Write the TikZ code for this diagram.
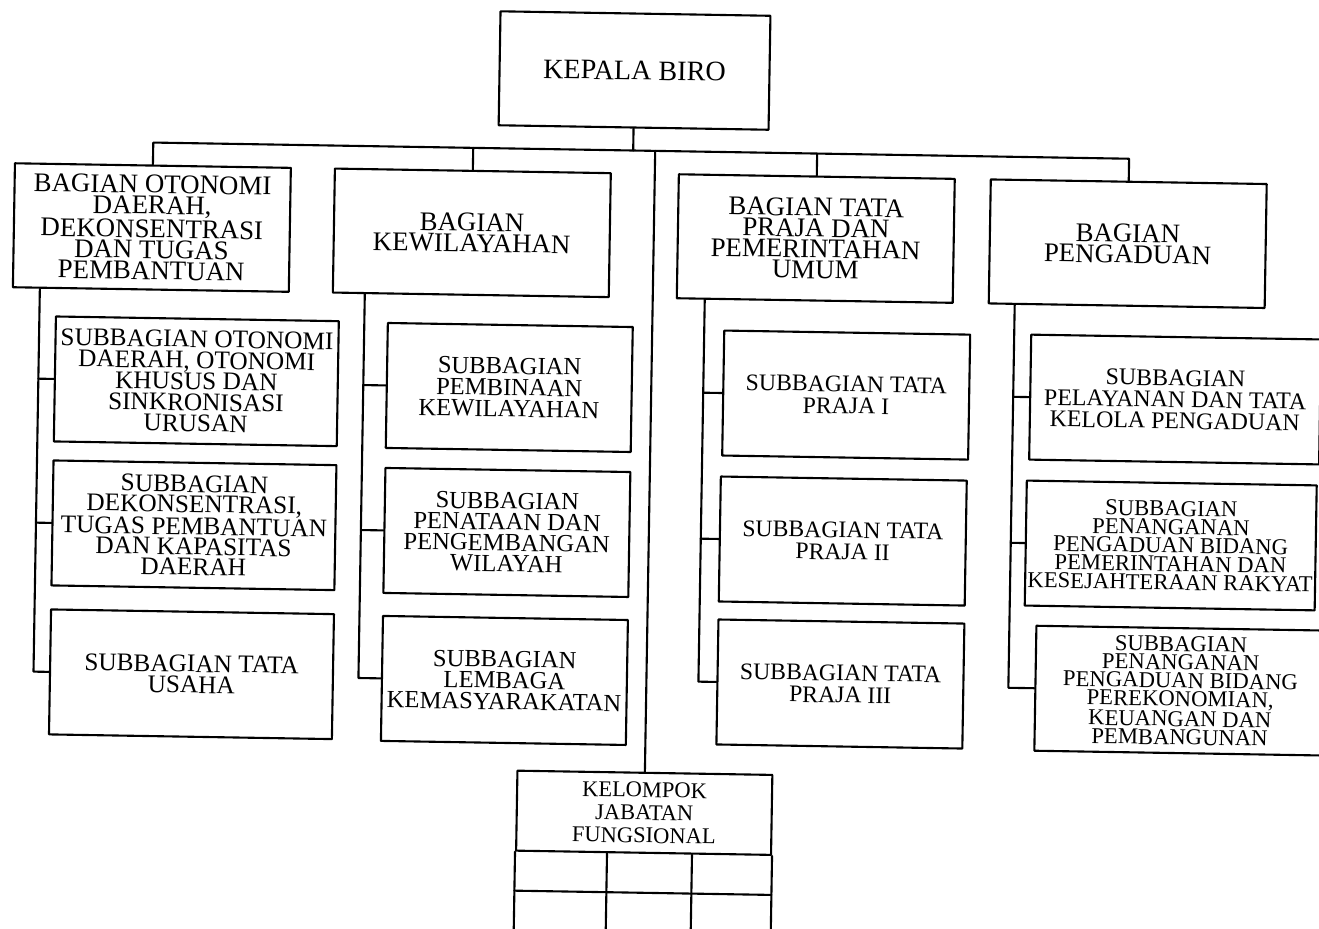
\documentclass[tikz,border=0pt]{standalone}
\usepackage{fontspec}
\setmainfont{Liberation Serif}
\begin{document}
\begin{tikzpicture}[x=0.02cm,y=-0.02cm,line join=round,line cap=round,line width=1.2pt,
	box/.style={draw,align=center,inner sep=0pt,minimum width=#1,minimum height=2.5cm},
	fs/.style 2 args={font=\fontsize{#1}{#2}\selectfont}]
	\def\hw{5.52cm}
	\def\hh{2.48cm}
	\path[use as bounding box] (0,0) rectangle (1319,929);
	\clip (0,0) rectangle (1319,929);
	\begin{scope}[rotate around={-0.95:(660,465)},transform shape]
	% kepala dan bagian
	\node[box=5.4cm,minimum height=2.28cm,fs={16}{14}] (kepala) at (628,71) {KEPALA BIRO};
	\node[box=\hw,minimum height=\hh,fs={15.3}{11.9}] (otonomi) at (148,236) {BAGIAN OTONOMI\\DAERAH,\\DEKONSENTRASI\\DAN TUGAS\\PEMBANTUAN};
	\node[box=\hw,minimum height=\hh,fs={15.3}{11.9}] (wilayah) at (468,236) {BAGIAN\\KEWILAYAHAN};
	\node[box=\hw,minimum height=\hh,fs={15.3}{11.9}] (praja) at (812,236) {BAGIAN TATA\\PRAJA DAN\\PEMERINTAHAN\\UMUM};
	\node[box=\hw,minimum height=\hh,fs={15.3}{11.9}] (aduan) at (1124,236) {BAGIAN\\PENGADUAN};
	% subbagian
	\node[box=5.66cm,fs={14.4}{12}] (o1) at (195,389) {SUBBAGIAN OTONOMI\\DAERAH, OTONOMI\\KHUSUS DAN\\SINKRONISASI\\URUSAN};
	\node[box=5.66cm,fs={14.4}{11.5}] (o2) at (195,533) {SUBBAGIAN\\DEKONSENTRASI,\\TUGAS PEMBANTUAN\\DAN KAPASITAS\\DAERAH};
	\node[box=5.66cm,fs={14.4}{12}] (o3) at (195,682) {SUBBAGIAN TATA\\USAHA};
	\node[box=4.9cm,fs={14}{12.2}] (w1) at (508,390) {SUBBAGIAN\\PEMBINAAN\\KEWILAYAHAN};
	\node[box=4.9cm,fs={14}{11.9}] (w2) at (508,535) {SUBBAGIAN\\PENATAAN DAN\\PENGEMBANGAN\\WILAYAH};
	\node[box=4.9cm,fs={14}{12}] (w3) at (508,683) {SUBBAGIAN\\LEMBAGA\\KEMASYARAKATAN};
	\node[box=4.92cm,fs={13.5}{12.5}] (p1) at (845,392) {SUBBAGIAN TATA\\PRAJA I};
	\node[box=4.92cm,fs={13.5}{12.5}] (p2) at (844,538) {SUBBAGIAN TATA\\PRAJA II};
	\node[box=4.92cm,fs={13.5}{12.5}] (p3) at (844,681) {SUBBAGIAN TATA\\PRAJA III};
	\node[box=5.8cm,fs={13.6}{12.2}] (a1) at (1174,391) {SUBBAGIAN\\PELAYANAN DAN TATA\\KELOLA PENGADUAN};
	\node[box=5.8cm,fs={12.9}{10.5}] (a2) at (1172,537) {SUBBAGIAN\\PENANGANAN\\PENGADUAN BIDANG\\PEMERINTAHAN DAN\\KESEJAHTERAAN RAKYAT};
	\node[box=5.8cm,fs={12.9}{10.4}] (a3) at (1184,682) {SUBBAGIAN\\PENANGANAN\\PENGADUAN BIDANG\\PEREKONOMIAN,\\KEUANGAN DAN\\PEMBANGUNAN};
	% kelompok jabatan fungsional
	\node[box=5.1cm,minimum height=1.6cm,fs={12.8}{13}] (kelompok) at (650,813) {KELOMPOK\\JABATAN\\FUNGSIONAL};
	\draw (kelompok.south west) -- ++(0,90) (kelompok.south east) -- ++(0,90);
	\draw ([shift={(0,39)}]kelompok.south west) -- ([shift={(0,39)}]kelompok.south east);
	\draw ([shift={(92,0)}]kelompok.south west) -- ++(0,90);
	\draw ([shift={(177,0)}]kelompok.south west) -- ++(0,90);
	% garis
	\coordinate (bus) at (628,151);
	\draw (kepala.south) -- (bus);
	\draw (otonomi.north) |- (bus) -| (aduan.north);
	\foreach \n in {wilayah,praja,kelompok}
		\draw (\n.north) -- (\n.north |- bus);
	\foreach \h/\c/\x in {otonomi/o/37,wilayah/w/362,praja/p/702,aduan/a/1012}{
		\draw (\x,0 |- \h.south) |- (\c3.west);
		\draw (\x,0 |- \c1.west) -- (\c1.west) (\x,0 |- \c2.west) -- (\c2.west);
	}
	\end{scope}
\end{tikzpicture}
\end{document}
